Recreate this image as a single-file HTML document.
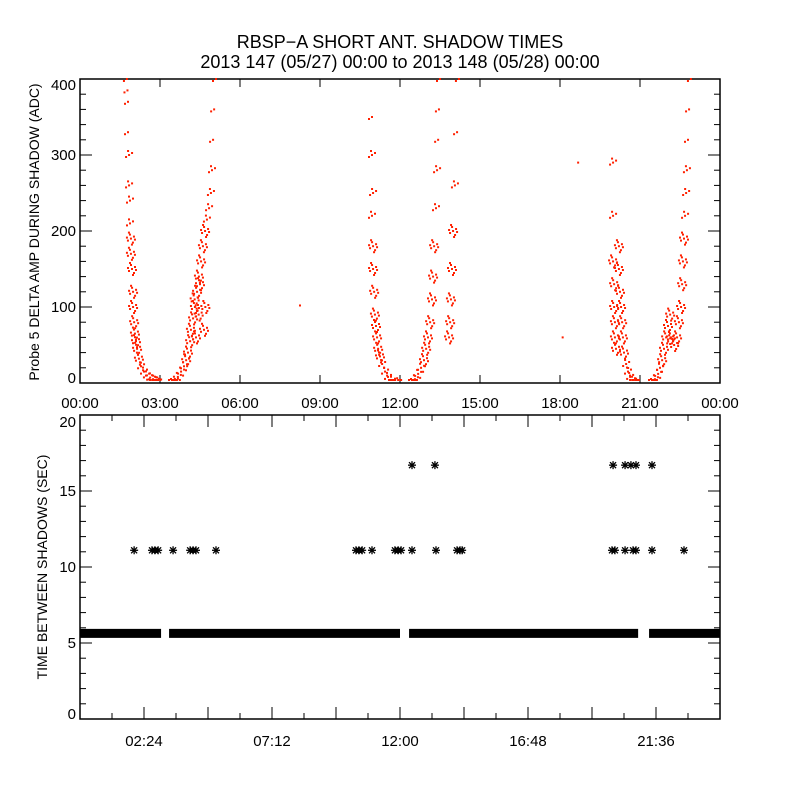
<!DOCTYPE html>
<html><head><meta charset="utf-8"><style>
body{margin:0;background:#fff;}
svg text{font-family:"Liberation Sans",sans-serif;fill:#000;}
</style></head><body>
<svg id="chart" width="800" height="800" viewBox="0 0 800 800" xmlns="http://www.w3.org/2000/svg">
<rect width="800" height="800" fill="#fff"/>
<text x="400" y="48" font-size="18" text-anchor="middle">RBSP−A SHORT ANT. SHADOW TIMES</text>
<text x="400" y="68" font-size="18" text-anchor="middle">2013 147 (05/27) 00:00 to 2013 148 (05/28) 00:00</text>
<g id="topPanel"></g><g id="botPanel"></g>
</svg>
<script>
// ---- data ----
const topTickLabels=["00:00","03:00","06:00","09:00","12:00","15:00","18:00","21:00","00:00"];
const topYTicks=[0,100,200,300,400];
const botTickLabels=["02:24","07:12","12:00","16:48","21:36"];
const botYTicks=[0,5,10,15,20];
const ampHours=[1.76,1.78,1.80,1.80,1.84,1.84,1.875,1.875,1.91,1.91,1.95,1.99,1.99,2.03,2.06,2.10,2.14,2.21,2.29,2.40,2.51,2.63,2.74,2.85,2.93,
3.45,3.56,3.67,3.79,3.90,3.98,4.05,4.13,4.16,4.24,4.31,4.39,4.46,4.54,4.61,4.69,4.76,4.84,4.91,4.95,4.99,5.03,5.10,4.30,4.50,4.70,4.45,4.65,4.35,
10.95,10.95,10.99,10.95,10.99,10.99,11.03,11.06,11.10,11.14,11.18,11.25,11.33,11.44,11.55,11.70,11.93,
12.45,12.56,12.68,12.79,12.90,12.98,13.05,13.13,13.20,13.24,13.28,13.35,13.39,13.43,13.46,13.50,13.84,13.88,13.91,13.95,13.99,14.06,14.14,14.21,
19.99,19.99,19.99,20.03,20.03,20.06,20.06,20.10,20.21,20.21,20.25,20.29,20.33,20.36,20.40,20.48,20.55,20.63,20.74,20.85,
21.45,21.56,21.68,21.75,21.83,21.90,21.98,22.05,22.13,22.16,22.28,22.39,22.46,22.54,22.58,22.61,22.65,22.69,22.73,22.76,22.80,22.84,22.91];
const ampValues=[400,385,370,330,300,260,240,210,190,170,150,120,100,80,65,55,45,32,22,15,10,7,5,3,2,
0,3,8,15,22,30,40,55,70,85,100,120,140,160,180,200,215,230,250,280,320,360,400,110,130,100,90,70,60,
350,300,250,220,180,150,120,90,75,60,45,35,25,15,8,3,1,
0,5,12,20,30,45,60,80,110,140,180,230,280,320,360,400,60,80,110,150,200,260,330,400,
290,220,160,130,100,80,60,45,180,150,120,100,80,60,40,25,15,8,3,1,
0,5,12,20,30,45,60,75,90,60,50,60,80,100,130,160,190,220,250,280,320,360,400];
const strayHours=[8.25,18.10,18.68];
const strayValues=[102,60,290];
const gap11Hours=[2.03,2.7,2.81,2.93,3.49,4.13,4.24,4.35,5.1,10.35,10.46,10.58,10.95,11.81,11.93,12.04,12.45,13.35,14.14,14.25,14.33,19.95,20.06,20.44,20.74,20.85,21.45,22.65];
const gap11Values=gap11Hours.map(()=>11.1);
const gap17Hours=[12.45,13.31,19.99,20.44,20.66,20.85,21.45];
const gap17Values=[16.7,16.7,16.7,16.7,16.7,16.7,16.7];
const bandStart=[0,3.34,12.34,21.34];
const bandEnd=[3.04,12.0,20.93,24];
const bandValue=5.6;

const NS="http://www.w3.org/2000/svg";
function mk(p,t,a){const e=document.createElementNS(NS,t);for(const k in a)e.setAttribute(k,a[k]);p.appendChild(e);return e;}
const X0=80,X1=720;
const xs=h=>X0+h/24*(X1-X0);
const T0=383,T1=79, ty=v=>T0+(T1-T0)*v/400;
const B0=719,B1=415, by=v=>B0+(B1-B0)*v/20;
const topG=document.getElementById('topPanel'), botG=document.getElementById('botPanel');

// top frame
let r=mk(topG,'rect',{x:X0,y:T1,width:X1-X0,height:T0-T1,fill:'none',stroke:'#000','stroke-width':1.5});


for(let i=0;i<=8;i++){const x=xs(i*3);
 mk(topG,'line',{x1:x,y1:T0,x2:x,y2:T0-8,stroke:'#000'});mk(topG,'line',{x1:x,y1:T1,x2:x,y2:T1+8,stroke:'#000'});
 const t=mk(topG,'text',{x:x,y:408,'font-size':15,'text-anchor':'middle'});t.textContent=topTickLabels[i];
 
 }
for(let v=0;v<=400;v+=20){const y=ty(v),L=v%100===0?12:6;
 mk(topG,'line',{x1:X0,y1:y,x2:X0+L,y2:y,stroke:'#000'});mk(topG,'line',{x1:X1,y1:y,x2:X1-L,y2:y,stroke:'#000'});}
topYTicks.forEach(v=>{const t=mk(topG,'text',{x:76,y:Math.min(Math.max(ty(v)+5,90),383),'font-size':15,'text-anchor':'end'});t.textContent=v;
 
 });
let yt=mk(topG,'text',{transform:'translate(39,232) rotate(-90)','font-size':14,'text-anchor':'middle'});yt.textContent='Probe 5 DELTA AMP DURING SHADOW (ADC)';


// scatter clusters (fixed glyph of dots)
const glyph=[[0,0],[-3,2],[3,-2],[-1,-4],[2,4],[4,1],[-4,-1],[1,6],[-2,-6]];
ampHours.forEach((h,i)=>{const g=mk(topG,'g',{fill:'#ff2000'});
 
 
 const x=xs(h),y=ty(ampValues[i]);const n=ampValues[i]<30?5:(ampValues[i]>300?2:(ampValues[i]>200?4:9));
 for(let k=0;k<n;k++){const yy=Math.min(y+glyph[k][1],T0-3);mk(g,'rect',{x:x+glyph[k][0]-1,y:yy-1,width:2,height:2});}});
strayHours.forEach((h,i)=>{const d=mk(topG,'rect',{x:xs(h)-1,y:ty(strayValues[i])-1,width:2,height:2,fill:'#ff2000'});
 
 });

// bottom frame
r=mk(botG,'rect',{x:X0,y:B1,width:X1-X0,height:B0-B1,fill:'none',stroke:'#000','stroke-width':1.5});


for(let i=0;i<=20;i++){const x=xs(i*1.2),L=i%2===0&&i>0&&i<20?12:6;
 mk(botG,'line',{x1:x,y1:B0,x2:x,y2:B0-L,stroke:'#000'});mk(botG,'line',{x1:x,y1:B1,x2:x,y2:B1+L,stroke:'#000'});}
botTickLabels.forEach((s,i)=>{const t=mk(botG,'text',{x:xs(2.4+i*4.8),y:746,'font-size':15,'text-anchor':'middle'});t.textContent=s;
 
 });
for(let v=0;v<=20;v++){const y=by(v),L=v%5===0?12:6;
 mk(botG,'line',{x1:X0,y1:y,x2:X0+L,y2:y,stroke:'#000'});mk(botG,'line',{x1:X1,y1:y,x2:X1-L,y2:y,stroke:'#000'});}
botYTicks.forEach(v=>{const t=mk(botG,'text',{x:76,y:Math.min(Math.max(by(v)+5,427),719),'font-size':15,'text-anchor':'end'});t.textContent=v;
 
 });
yt=mk(botG,'text',{transform:'translate(47,567) rotate(-90)','font-size':14,'text-anchor':'middle'});yt.textContent='TIME BETWEEN SHADOWS (SEC)';


bandStart.forEach((s,i)=>{const b=mk(botG,'rect',{x:xs(s),y:by(bandValue)-5,width:xs(bandEnd[i])-xs(s),height:9,fill:'#000'});
 
 });
function star(h,v){const g=mk(botG,'g',{stroke:'#000','stroke-width':1.3});
 
 
 const x=xs(h),y=by(v);
 mk(g,'line',{x1:x-4,y1:y,x2:x+4,y2:y});mk(g,'line',{x1:x,y1:y-4,x2:x,y2:y+4});
 mk(g,'line',{x1:x-3,y1:y-3,x2:x+3,y2:y+3});mk(g,'line',{x1:x-3,y1:y+3,x2:x+3,y2:y-3});}
gap11Hours.forEach((h,i)=>star(h,gap11Values[i]));
gap17Hours.forEach((h,i)=>star(h,gap17Values[i]));
</script>
</body></html>
